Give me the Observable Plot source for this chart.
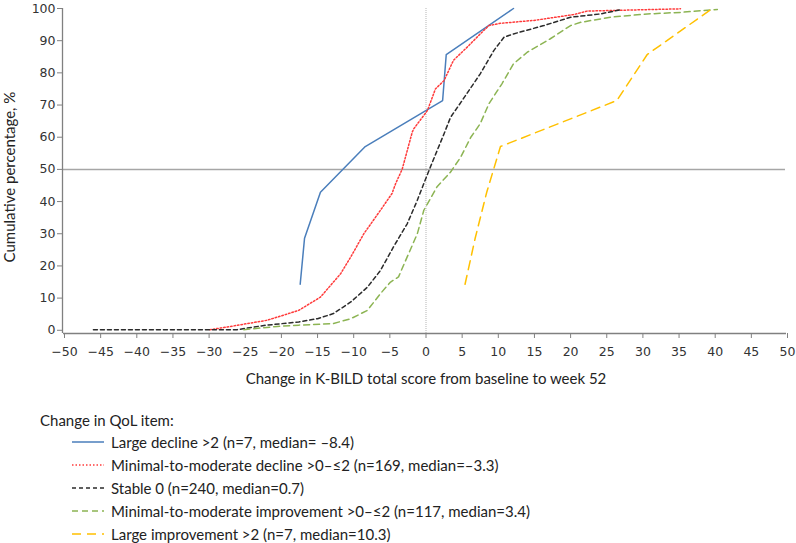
<!DOCTYPE html>
<html>
<head>
<meta charset="utf-8">
<script src="https://cdn.jsdelivr.net/npm/d3@7"></script>
<script src="https://cdn.jsdelivr.net/npm/@observablehq/plot@0.6"></script>
<style>
  body { margin: 0; background: #fff; }
  #wrap { position: relative; width: 796px; height: 543px; font-family: Lato, "Open Sans", sans-serif; color: #222; }
  #legend { position: absolute; left: 0; top: 0; width: 796px; }
  .lg-title { position: absolute; left: 40px; top: 409px; font-size: 15px; line-height: 22px; white-space: nowrap; }
  .lg-row { position: absolute; left: 72px; height: 22px; line-height: 22px; font-size: 15px; white-space: nowrap; display: flex; align-items: center; }
  .lg-row svg { margin-right: 7px; }
</style>
</head>
<body>
<div id="wrap"><div id="chart"></div><div id="legend"></div></div>
<script>
// ---- data ----
const seriesNames = [
  "Large decline >2 (n=7, median= \u20138.4)",
  "Minimal-to-moderate decline >0\u2013\u22642 (n=169, median=\u20133.3)",
  "Stable 0 (n=240, median=0.7)",
  "Minimal-to-moderate improvement >0\u2013\u22642 (n=117, median=3.4)",
  "Large improvement >2 (n=7, median=10.3)"
];
const largeDeclineX = [-17.4, -16.8, -14.6, -8.4, 2.3, 2.8, 12.1];
const largeDeclineY = [14.3, 28.6, 42.9, 57.1, 71.4, 85.7, 100];
const minDeclineX = [-29.9, -27.5, -25.2, -22, -19.7, -17.6, -14.6, -11.8, -10.4, -8.6, -6.3, -4.7, -4.2, -3.3, -1.9, -1.7, 0.2, 1.3, 2.5, 3.8, 5.7, 7.5, 8.7, 10.3, 14.9, 20.4, 22.3, 35.2];
const minDeclineY = [0.2, 1.0, 1.9, 3.1, 4.7, 6.2, 10.3, 17.6, 22.8, 30, 37.3, 42.5, 45.6, 50, 61.6, 62.6, 68.3, 75, 77.6, 83.9, 88, 92.1, 94.7, 95.4, 96.3, 98.1, 99.2, 99.9];
const stableX = [-46, -26.1, -22.4, -17.6, -15, -12.8, -10.4, -8.1, -6.3, -4.5, -2.6, -1.2, -0.3, 0.6, 2.5, 3.4, 5, 7.5, 9.4, 10.8, 12.1, 16.3, 20, 24.1, 26.9];
const stableY = [0.2, 0.2, 1.5, 2.6, 3.6, 5.2, 8.8, 13.4, 18.6, 25.9, 33.1, 40.4, 45.6, 50.7, 61.1, 66.2, 71.4, 79.7, 87, 91.1, 92.1, 94.7, 97.3, 98.3, 99.6];
const minImproveX = [-25.2, -20.6, -17.6, -12.8, -10.4, -8.1, -6.3, -4.9, -3.8, -2.6, -1.2, -0.3, 0.2, 1.5, 3.4, 4.8, 6.2, 7.5, 8.7, 10.5, 12.1, 14, 17.2, 20, 21.4, 25.5, 30.6, 35.2, 40.3];
const minImproveY = [0.2, 1.2, 1.6, 2.1, 3.6, 6.2, 11.4, 15, 16.6, 22.8, 30, 37.3, 39.3, 44.5, 49.2, 53.8, 60, 64.2, 70.4, 76.6, 82.8, 86.4, 90.6, 94.7, 95.7, 97.3, 98.3, 98.8, 99.7];
const largeImproveX = [5.4, 6.8, 8.4, 10.3, 26.4, 30.6, 39.6];
const largeImproveY = [14.3, 28.6, 42.9, 57.1, 71.4, 85.7, 100];
const xTicks = d3.range(-50, 51, 5);
const yTicks = d3.range(0, 101, 10);

// ---- styles ----
const styles = [
  {stroke: "#4a7ebb", dash: null, width: 1.5},
  {stroke: "#ff3b3b", dash: "1.5,2", width: 1.5},
  {stroke: "#2b2b2b", dash: "4,3", width: 1.5},
  {stroke: "#8cb453", dash: "6,4", width: 1.5},
  {stroke: "#ffc000", dash: "9,6", width: 1.5}
];
const xs = [largeDeclineX, minDeclineX, stableX, minImproveX, largeImproveX];
const ys = [largeDeclineY, minDeclineY, stableY, minImproveY, largeImproveY];
const series = xs.map((xarr, i) => xarr.map((x, j) => ({x, y: ys[i][j], s: i})));

const fmt = d3.format("d");
const lineMarks = series.map((d, i) =>
  Plot.line(d, {x: "x", y: "y", stroke: styles[i].stroke, strokeWidth: styles[i].width,
    strokeDasharray: styles[i].dash || undefined, curve: "linear"})
);

const plot = Plot.plot({
  width: 796,
  height: 395,
  marginLeft: 64,
  marginRight: 9,
  marginTop: 8,
  marginBottom: 62,
  style: {fontFamily: "'DejaVu Sans', sans-serif", fontSize: "12.5px", color: "#333", background: "#fff", overflow: "visible"},
  x: {domain: [-50, 50], ticks: xTicks, tickFormat: fmt},
  y: {domain: [-1, 100], ticks: yTicks, tickFormat: fmt},
  marks: [
    Plot.ruleX([0], {stroke: "#b5b5b5", strokeWidth: 1, strokeDasharray: "1,1"}),
    Plot.ruleY([50], {stroke: "#a6a6a6", strokeWidth: 1.5, dx: -2}),
    ...lineMarks,
    Plot.ruleX([-50], {stroke: "#808080", strokeWidth: 1.3, dx: -2}),
    Plot.ruleY([-1], {stroke: "#808080", strokeWidth: 1.3, dx: -1}),
    Plot.axisX({ticks: xTicks, tickFormat: fmt, tickSize: 5, tickPadding: 9, stroke: "#808080", fill: "#333", label: null}),
    Plot.axisY({ticks: yTicks, tickFormat: fmt, tickSize: 5, tickPadding: 2, stroke: "#808080", fill: "#333", label: null, dx: -2})
  ]
});
document.getElementById("chart").appendChild(plot);

const svg = d3.select(plot);
svg.append("text")
  .attr("x", 426).attr("y", 380)
  .attr("text-anchor", "middle").attr("dominant-baseline", "middle")
  .style("font-family", "Lato, 'Open Sans', sans-serif").style("font-size", "15px").attr("fill", "#222")
  .text("Change in K-BILD total score from baseline to week 52");
svg.append("text")
  .attr("transform", "translate(11,177) rotate(-90)")
  .attr("text-anchor", "middle").attr("dominant-baseline", "middle")
  .style("font-family", "Lato, 'Open Sans', sans-serif").style("font-size", "15px").attr("fill", "#222")
  .text("Cumulative percentage, %");

// ---- legend ----
const legend = d3.select("#legend");
legend.append("div").attr("class", "lg-title").text("Change in QoL item:");
seriesNames.forEach((name, i) => {
  const row = legend.append("div").attr("class", "lg-row").style("top", (431 + i * 23) + "px");
  const s = row.append("svg").attr("width", 32).attr("height", 4);
  s.append("line").attr("x1", 0).attr("x2", 32).attr("y1", 2).attr("y2", 2)
    .attr("stroke", styles[i].stroke).attr("stroke-width", styles[i].width)
    .attr("stroke-dasharray", styles[i].dash);
  row.append("span").text(name);
});
</script>
</body>
</html>
